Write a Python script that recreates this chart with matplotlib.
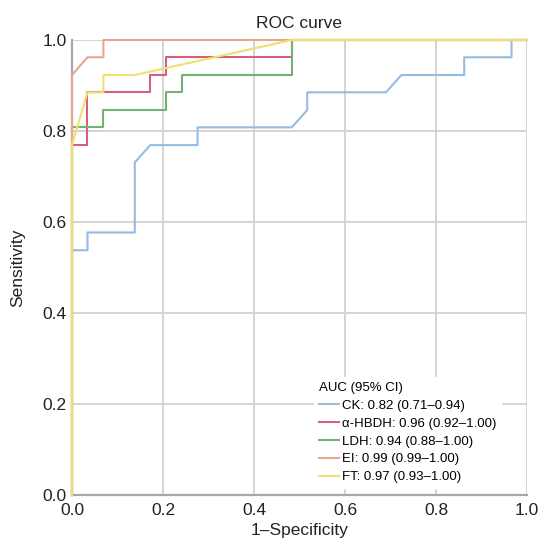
import matplotlib
matplotlib.use("Agg")
import matplotlib.pyplot as plt

plt.rcParams['font.family'] = ['Liberation Sans', 'DejaVu Sans']

# ROC points
ck_fpr = [0, 0, 0.034, 0.034, 0.138, 0.138, 0.172, 0.276, 0.276, 0.483, 0.517, 0.517,
          0.690, 0.724, 0.862, 0.862, 0.966, 0.966, 1.0]
ck_tpr = [0, 0.538, 0.538, 0.577, 0.577, 0.731, 0.769, 0.769, 0.808, 0.808, 0.846, 0.885,
          0.885, 0.923, 0.923, 0.962, 0.962, 1.0, 1.0]

hbdh_fpr = [0, 0, 0.034, 0.034, 0.172, 0.172, 0.207, 0.207, 0.483, 0.483, 1.0]
hbdh_tpr = [0, 0.769, 0.769, 0.885, 0.885, 0.923, 0.923, 0.962, 0.962, 1.0, 1.0]

ldh_fpr = [0, 0, 0.069, 0.069, 0.207, 0.207, 0.241, 0.241, 0.483, 0.483, 1.0]
ldh_tpr = [0, 0.808, 0.808, 0.846, 0.846, 0.885, 0.885, 0.923, 0.923, 1.0, 1.0]

ei_fpr = [0, 0, 0.034, 0.069, 0.069, 1.0]
ei_tpr = [0, 0.923, 0.962, 0.962, 1.0, 1.0]

ft_fpr = [0, 0, 0.034, 0.069, 0.069, 0.138, 0.483, 1.0]
ft_tpr = [0, 0.769, 0.885, 0.885, 0.923, 0.923, 1.0, 1.0]

labels = ["CK: 0.82 (0.71\u20130.94)", "\u03b1-HBDH: 0.96 (0.92\u20131.00)",
          "LDH: 0.94 (0.88\u20131.00)", "EI: 0.99 (0.99\u20131.00)", "FT: 0.97 (0.93\u20131.00)"]
colors = ["#94bce0", "#d2607e", "#74b274", "#eda48e", "#f0e070"]
ticks = [0.0, 0.2, 0.4, 0.6, 0.8, 1.0]

fig = plt.figure(figsize=(5.39, 5.48), dpi=100)
ax = fig.add_axes([72/539, 53/548, 455/539, 455/548])

curves = [(ck_fpr, ck_tpr), (hbdh_fpr, hbdh_tpr), (ldh_fpr, ldh_tpr), (ei_fpr, ei_tpr), (ft_fpr, ft_tpr)]
for (x, y), lab, c in zip(curves, labels, colors):
    ax.plot(x, y, color=c, lw=1.5, label=lab, clip_on=False, zorder=3)

ax.set_xlim(0, 1)
ax.set_ylim(0, 1)
ax.set_xticks(ticks)
ax.set_yticks(ticks)
ax.set_xticklabels([f"{t:.1f}" for t in ticks])
ax.set_yticklabels([f"{t:.1f}" for t in ticks])
ax.tick_params(length=0, labelsize=12.5, colors="#222222")
ax.tick_params(axis="x", pad=6)
ax.tick_params(axis="y", pad=4)
ax.grid(True, color="#d4d4d4", lw=1.4)
ax.set_axisbelow(True)
for s in ["top", "right"]:
    ax.spines[s].set_visible(False)
for s in ["left", "bottom"]:
    ax.spines[s].set_color("#a8a8a8")
    ax.spines[s].set_linewidth(1.6)

ax.set_title("ROC curve", fontsize=12.5, pad=9, color="#222222")
ax.set_xlabel("1\u2013Specificity", fontsize=12.5, labelpad=3, color="#222222")
ax.set_ylabel("Sensitivity", fontsize=12.5, labelpad=12, color="#222222")

leg = ax.legend(title="AUC (95% CI)", loc="lower right", bbox_to_anchor=(0.958, 0.0),
                fontsize=9.5, title_fontsize=9.5, frameon=True, fancybox=False,
                handlelength=1.5, handletextpad=0.2, labelspacing=0.42, borderpad=0.4,
                alignment="left")
leg.get_frame().set_edgecolor("white")
leg.get_frame().set_facecolor("white")
leg.get_frame().set_alpha(1)
leg.set_zorder(5)

fig.savefig("out.png", dpi=100)
